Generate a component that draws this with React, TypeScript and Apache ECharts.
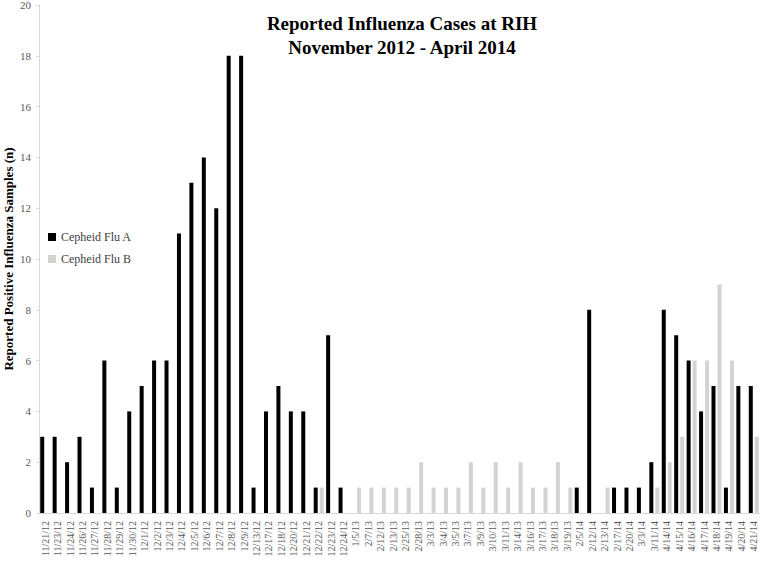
import React, { useEffect, useRef } from "react";
import * as echarts from "echarts";

const categories = [
  "11/21/12", "11/23/12", "11/24/12", "11/26/12", "11/27/12", "11/28/12", "11/29/12", "11/30/12",
  "12/1/12", "12/2/12", "12/3/12", "12/4/12", "12/5/12", "12/6/12", "12/7/12", "12/8/12", "12/9/12",
  "12/13/12", "12/17/12", "12/18/12", "12/20/12", "12/21/12", "12/22/12", "12/23/12", "12/24/12",
  "1/5/13", "2/7/13", "2/12/13", "2/13/13", "2/25/13", "2/28/13", "3/3/13", "3/4/13", "3/5/13",
  "3/7/13", "3/9/13", "3/10/13", "3/11/13", "3/14/13", "3/16/13", "3/17/13", "3/18/13", "3/19/13",
  "2/5/14", "2/12/14", "2/13/14", "2/17/14", "2/20/14", "3/3/14", "3/11/14", "4/14/14", "4/15/14",
  "4/16/14", "4/17/14", "4/18/14", "4/19/14", "4/20/14", "4/21/14",
];

const fluA = [
  3, 3, 2, 3, 1, 6, 1, 4, 5, 6, 6, 11, 13, 14, 12, 18, 18, 1, 4, 5, 4, 4, 1, 7, 1,
  0, 0, 0, 0, 0, 0, 0, 0, 0, 0, 0, 0, 0, 0, 0, 0, 0, 0,
  1, 8, 0, 1, 1, 1, 2, 8, 7, 6, 4, 5, 1, 5, 5,
];

const fluB = [
  0, 0, 0, 0, 0, 0, 0, 0, 0, 0, 0, 0, 0, 0, 0, 0, 0, 0, 0, 0, 0, 0, 1, 0, 0,
  1, 1, 1, 1, 1, 2, 1, 1, 1, 2, 1, 2, 1, 2, 1, 1, 2, 1,
  0, 0, 1, 0, 0, 0, 1, 2, 3, 6, 6, 9, 6, 0, 3,
];

const yTicks = { min: 0, max: 20, interval: 2 };
const yAxisTitle = "Reported Positive Influenza Samples (n)";

const FONT = "'Liberation Serif', 'Times New Roman', serif";

export default function App() {
  const ref = useRef<HTMLDivElement>(null);
  useEffect(() => {
    if (!ref.current) return;
    const chart = echarts.init(ref.current, undefined, { renderer: "svg" });
    chart.setOption({
      animation: false,
      backgroundColor: "#ffffff",
      title: {
        text: "Reported Influenza Cases at RIH\nNovember 2012 - April 2014",
        left: 397,
        top: 6,
        textAlign: "center",
        textStyle: {
          fontFamily: FONT,
          fontWeight: "bold",
          fontSize: 19,
          lineHeight: 24,
          color: "#000",
        },
      },
      legend: {
        orient: "vertical",
        left: 43,
        top: 226,
        itemWidth: 8,
        itemHeight: 8,
        itemGap: 10,
        icon: "rect",
        textStyle: { fontFamily: FONT, fontSize: 12, color: "#404040" },
        data: ["Cepheid Flu A", "Cepheid Flu B"],
      },
      graphic: [
        {
          type: "text",
          x: 8,
          y: 259,
          rotation: Math.PI / 2,
          style: {
            text: yAxisTitle,
            fontFamily: FONT,
            fontWeight: "bold",
            fontSize: 13,
            fill: "#000",
            align: "center",
            verticalAlign: "middle",
          },
        },
      ],
      grid: { left: 39, right: 0, top: 5, bottom: 49, containLabel: false, outerBoundsMode: "none" },
      xAxis: {
        type: "category",
        data: categories,
        axisLine: { lineStyle: { color: "#d9d9d9" } },
        axisTick: { show: false },
        axisLabel: {
          rotate: 90,
          interval: 0,
          fontFamily: FONT,
          fontSize: 10,
          color: "#595959",
          margin: 8,
        },
      },
      yAxis: {
        type: "value",
        ...yTicks,
        axisLine: { show: true, lineStyle: { color: "#d9d9d9" } },
        axisTick: { show: true, length: 3, lineStyle: { color: "#d9d9d9" } },
        splitLine: { show: false },
        axisLabel: { fontFamily: FONT, fontSize: 11, color: "#595959", margin: 8 },
      },
      series: [
        {
          name: "Cepheid Flu A",
          type: "bar",
          data: fluA,
          barWidth: 4,
          barGap: "50%",
          itemStyle: { color: "#000000" },
        },
        {
          name: "Cepheid Flu B",
          type: "bar",
          data: fluB,
          barWidth: 4,
          barGap: "50%",
          itemStyle: { color: "#d3d3d3" },
        },
      ],
    });
    return () => chart.dispose();
  }, []);
  return (
    <div
      ref={ref}
      style={{ position: "fixed", left: 0, top: 0, width: 760, height: 562 }}
    />
  );
}
